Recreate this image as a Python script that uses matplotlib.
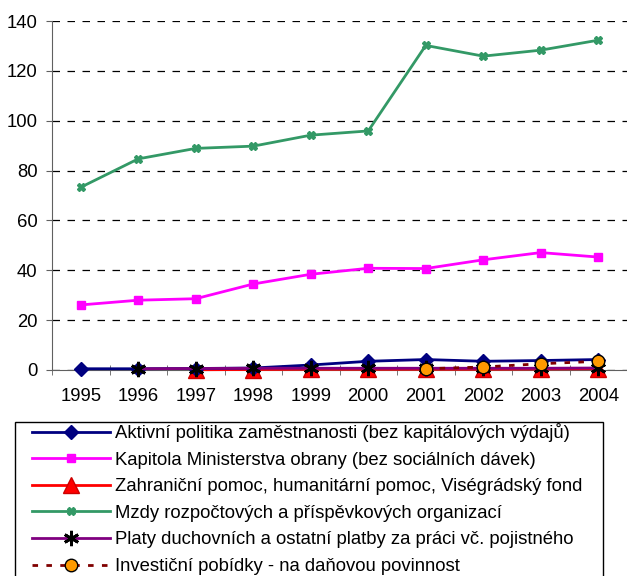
import matplotlib.pyplot as plt
import numpy as np
from matplotlib.patches import Rectangle

plt.rcParams['font.family'] = ['Liberation Sans', 'DejaVu Sans']

years = ['1995', '1996', '1997', '1998', '1999', '2000', '2001', '2002', '2003', '2004']

aktivni = [0.5, 0.5, 0.6, 0.8, 2.0, 3.5, 4.2, 3.5, 3.8, 4.2]
obrana = [26.1, 28.0, 28.6, 34.5, 38.4, 40.8, 40.7, 44.2, 47.1, 45.3]
zahranicni = [None, None, 0.1, 0.2, 0.3, 0.3, 0.3, 0.3, 0.4, 0.5]
mzdy = [73.3, 84.7, 88.9, 89.8, 94.2, 95.9, 130.2, 125.9, 128.3, 132.3]
platy = [None, 0.5, 0.6, 0.7, 0.7, 0.7, 0.7, 0.7, 0.7, 0.8]
investicni = [None, None, None, None, None, None, 0.5, 1.2, 2.5, 3.5]

labels = [
    'Aktivní politika zaměstnanosti (bez kapitálových výdajů)',
    'Kapitola Ministerstva obrany (bez sociálních dávek)',
    'Zahraniční pomoc, humanitární pomoc, Viségrádský fond',
    'Mzdy rozpočtových a příspěvkových organizací',
    'Platy duchovních a ostatní platby za práci vč. pojistného',
    'Investiční pobídky - na daňovou povinnost',
]


def to_arr(vals):
    return np.array([np.nan if v is None else v for v in vals], dtype=float)


fig = plt.figure(figsize=(6.27, 5.76), dpi=100)
ax = fig.add_axes([52 / 627, 1 - 370 / 576, 1 - 52 / 627, (370 - 21) / 576])

x = np.arange(len(years))

ax.plot(x, to_arr(aktivni), color='#000080', lw=2, marker='D', ms=7,
        mfc='#000080', mec='#000080', label=labels[0], zorder=5, clip_on=False)
ax.plot(x, to_arr(obrana), color='#FF00FF', lw=2, marker='s', ms=6,
        mfc='#FF00FF', mec='#FF00FF', label=labels[1], zorder=4, clip_on=False)
ax.plot(x, to_arr(zahranicni), color='#FF0000', lw=2, marker='^', ms=11,
        mfc='#FF0000', mec='#CC0000', label=labels[2], zorder=3, clip_on=False)
ax.plot(x, to_arr(mzdy), color='#339966', lw=2, marker='X', ms=6,
        mfc='#339966', mec='#339966', label=labels[3], zorder=4, clip_on=False)
ax.plot(x, to_arr(platy), color='#800080', lw=2, marker=(6, 2, 0), ms=11,
        mec='black', mew=2, label=labels[4], zorder=6, clip_on=False)
ax.plot(x, to_arr(investicni), color='#800000', lw=2, ls=(0, (2, 3)),
        marker='o', ms=9, mfc='#FF9900', mec='black', mew=1,
        label=labels[5], zorder=7, clip_on=False)

ax.set_xlim(-0.5, len(years) - 0.5)
ax.set_ylim(0, 140)
ax.set_yticks(np.arange(0, 141, 20))
ax.set_xticks(x)
ax.set_xticklabels(years)
ax.set_xticks(np.arange(-0.5, len(years), 1), minor=True)
ax.tick_params(axis='x', which='major', length=0, pad=13, labelsize=13.3)
ax.tick_params(axis='x', which='minor', length=7, direction='inout', color='#606060')
ax.tick_params(axis='y', length=4.5, pad=6, labelsize=13.3, color='#606060')
ax.yaxis.grid(True, ls=(0, (6, 6)), color='black', lw=0.9)
ax.set_axisbelow(True)
for s in ['top', 'right']:
    ax.spines[s].set_visible(False)
ax.spines['left'].set_color('#606060')
ax.spines['bottom'].set_color('#606060')
ax.spines['bottom'].set_position(('data', 0))

# legend frame drawn separately (box runs past the bottom edge like the original)
fig.patches.append(Rectangle((15 / 627, -0.02), 588 / 627, (576 - 422) / 576 + 0.02,
                             transform=fig.transFigure, fill=False, ec='black', lw=1))
leg = fig.legend(loc='upper left', bbox_to_anchor=(32 / 627, 1 - 423 / 576),
                 borderaxespad=0, borderpad=0, ncol=1, fontsize=13.3,
                 handlelength=4.2, handletextpad=0.27, labelspacing=0.52,
                 frameon=False)

fig.savefig('out.png', dpi=100)
